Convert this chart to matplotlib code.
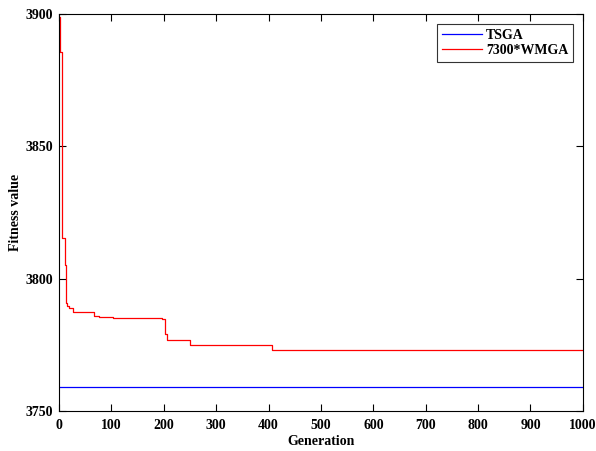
import numpy as np
import matplotlib
matplotlib.use("Agg")
import matplotlib.pyplot as plt

# --- data ---
tsga_gen = [0, 1000]
tsga_val = [3759.0, 3759.0]

wmga_gen = [0, 1, 6, 12, 14, 16, 20, 27, 67, 77, 104, 196, 202, 206, 250, 407, 1000]
wmga_val = [3899.0, 3885.8, 3815.2, 3805.0, 3790.7, 3789.5, 3788.8, 3787.5, 3786.0,
            3785.6, 3785.0, 3784.7, 3779.0, 3776.8, 3774.9, 3773.0, 3773.0]

xticks = np.arange(0, 1001, 100)
yticks = [3750, 3800, 3850, 3900]

plt.rcParams['font.family'] = ['Liberation Serif', 'DejaVu Serif']
plt.rcParams['font.weight'] = 'bold'

fig = plt.figure(figsize=(5.96, 4.51), dpi=100)
ax = fig.add_axes([0.099, 0.0887, 0.879, 0.8803])

ax.plot(tsga_gen, tsga_val, color='#0000ff', linewidth=0.9, label='TSGA')
ax.plot(wmga_gen, wmga_val, color='#ff0000', linewidth=0.9, drawstyle='steps-post',
        label='7300*WMGA')

ax.set_xlim(0, 1000)
ax.set_ylim(3750, 3900)
ax.set_xticks(xticks)
ax.set_yticks(yticks)
ax.tick_params(direction='in', length=5, width=0.8, top=True, right=True, labelsize=10)
ax.tick_params(axis='x', pad=6)
ax.tick_params(axis='y', pad=4)
for lab in ax.get_xticklabels() + ax.get_yticklabels():
    lab.set_fontweight('bold')
for s in ax.spines.values():
    s.set_linewidth(0.8)

ax.set_xlabel('Generation', fontsize=10, fontweight='bold', labelpad=2)
ax.set_ylabel('Fitness value', fontsize=10, fontweight='bold', labelpad=3)

leg = ax.legend(loc='upper right', fontsize=10, fancybox=False, framealpha=1,
                edgecolor='#333333', borderaxespad=0.7, handlelength=2.9,
                handletextpad=0.3, borderpad=0.35, labelspacing=0.2)
leg.get_frame().set_linewidth(0.8)
for t in leg.get_texts():
    t.set_fontweight('bold')

fig.savefig('out.png', dpi=100)
